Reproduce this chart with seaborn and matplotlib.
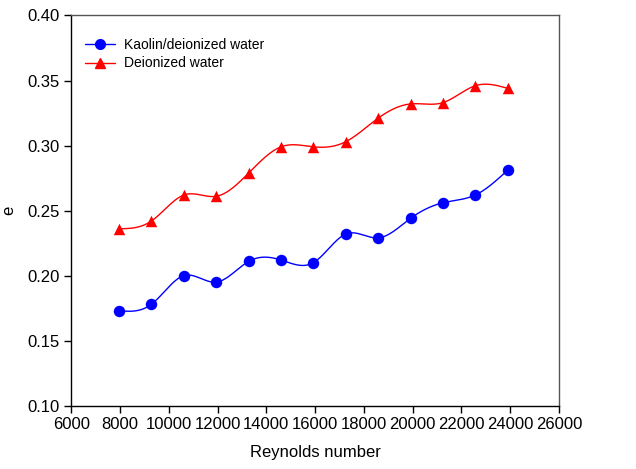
import numpy as np
import pandas as pd
import matplotlib
matplotlib.use("Agg")
import matplotlib.pyplot as plt
import seaborn as sns

reynolds = [7960, 9290, 10620, 11950, 13280, 14600, 15930, 17260, 18580, 19910, 21240, 22570, 23890]
kaolin = [0.173, 0.178, 0.200, 0.195, 0.211, 0.212, 0.210, 0.232, 0.229, 0.244, 0.256, 0.262, 0.281]
water = [0.236, 0.242, 0.262, 0.261, 0.279, 0.299, 0.299, 0.303, 0.321, 0.332, 0.333, 0.346, 0.344]
labels = ["Kaolin/deionized water", "Deionized water"]


def natural_spline(x, y, n=400):
    x = np.asarray(x, float)
    y = np.asarray(y, float)
    m = len(x)
    h = np.diff(x)
    A = np.zeros((m, m))
    b = np.zeros(m)
    A[0, 0] = A[-1, -1] = 1
    for i in range(1, m - 1):
        A[i, i - 1] = h[i - 1]
        A[i, i] = 2 * (h[i - 1] + h[i])
        A[i, i + 1] = h[i]
        b[i] = 3 * ((y[i + 1] - y[i]) / h[i] - (y[i] - y[i - 1]) / h[i - 1])
    c = np.linalg.solve(A, b)
    xs = np.linspace(x[0], x[-1], n)
    idx = np.clip(np.searchsorted(x, xs) - 1, 0, m - 2)
    dx = xs - x[idx]
    hi = h[idx]
    bi = (y[idx + 1] - y[idx]) / hi - hi * (2 * c[idx] + c[idx + 1]) / 3
    di = (c[idx + 1] - c[idx]) / (3 * hi)
    ys = y[idx] + bi * dx + c[idx] * dx ** 2 + di * dx ** 3
    return xs, ys


sns.set_style("white")
plt.rcParams["font.family"] = ["Liberation Sans", "DejaVu Sans"]
plt.rcParams["text.color"] = "black"
plt.rcParams["axes.labelcolor"] = "black"

fig = plt.figure(figsize=(6.36, 4.69), dpi=100)
ax = fig.add_axes([0.112, 0.135, 0.767, 0.832])

series = [(kaolin, "blue", "o", labels[0]), (water, "red", "^", labels[1])]
for vals, col, mk, lab in series:
    xs, ys = natural_spline(reynolds, vals)
    sns.lineplot(x=xs, y=ys, ax=ax, color=col, lw=1.0, sort=False)
    ax.plot([], [], color=col, marker=mk, ms=7, lw=1.0, label=lab)
    sns.scatterplot(x=reynolds, y=vals, ax=ax, color=col, marker=mk, s=68,
                    edgecolor=col, linewidth=0, zorder=3)

ax.set_xlim(6000, 26000)
ax.set_ylim(0.10, 0.40)
ax.set_xticks(np.arange(6000, 26001, 2000))
ax.set_yticks(np.arange(0.10, 0.401, 0.05))
ax.set_yticklabels([f"{v:.2f}" for v in np.arange(0.10, 0.401, 0.05)])
ax.tick_params(axis="both", which="both", direction="out", length=5, width=1,
               labelsize=12, bottom=True, left=True, top=False, right=False,
               colors="black", labelcolor="black")
ax.set_xlabel("Reynolds number", fontsize=12, labelpad=9, color="black")
ax.set_ylabel("e", fontsize=12, labelpad=8, color="black")
for s in ["left", "bottom"]:
    ax.spines[s].set_color("black")
for s in ["top", "right"]:
    ax.spines[s].set_color("#555555")
for s in ax.spines.values():
    s.set_linewidth(1.0)

leg = ax.legend(loc="upper left", frameon=False, fontsize=10, handlelength=2.2,
                handletextpad=0.65, bbox_to_anchor=(0.005, 0.97), borderaxespad=0.4,
                labelspacing=0.3)
for t in leg.get_texts():
    t.set_color("black")

fig.savefig("out.png", dpi=100)
